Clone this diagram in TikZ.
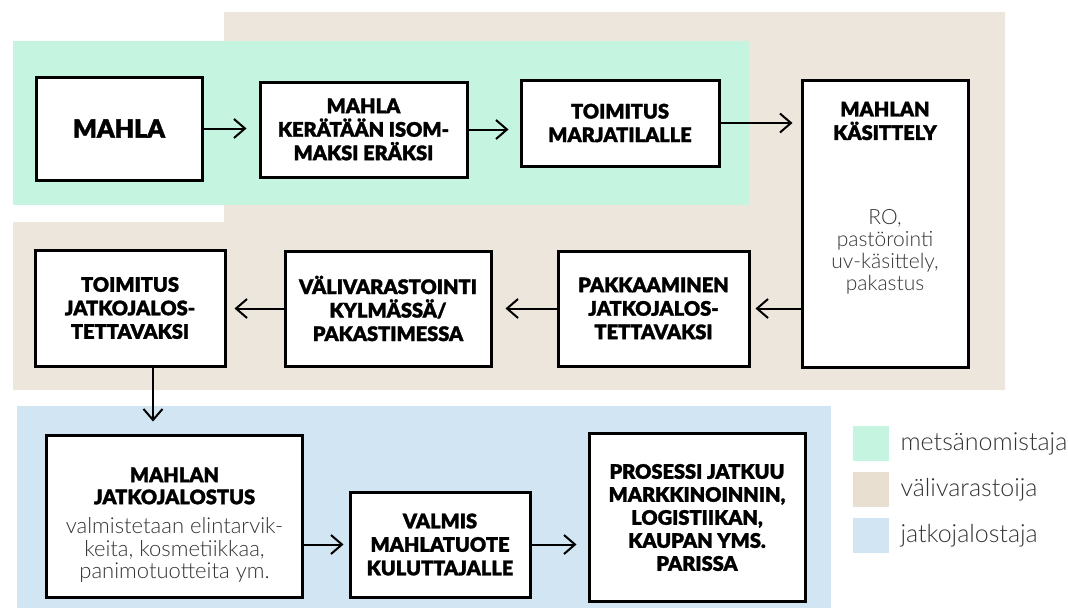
\documentclass[tikz,border=0pt]{standalone}
\usepackage{fontspec}
\setmainfont{Lato}[UprightFont=* Light, BoldFont=* Black, BoldFeatures={FakeBold=1.5}]
\usetikzlibrary{arrows.meta}
\definecolor{metsacol}{HTML}{C5F4E0}
\definecolor{valicol}{HTML}{EDE6DC}
\definecolor{valiselite}{HTML}{E8DFD0}
\definecolor{jatkocol}{HTML}{D2E5F3}

\begin{document}
\begin{tikzpicture}[x=1pt, y=-1pt, >={Straight Barb[length=11pt,width=19pt]},
  head/.style={align=center, font=\fontsize{20}{23.5}\selectfont\bfseries},
  box/.style={head, draw, line width=3pt, fill=white, inner sep=0pt},
  body/.style={align=center, text=black!80, font=\fontsize{21}{22}\selectfont},
  arr/.style={->, line width=2pt}]
\useasboundingbox (0,0) rectangle (1068,608);
% taustat
\fill[valicol] (224,12) -- (1005,12) -- (1005,390) -- (13,390) -- (13,222) -- (224,222) -- cycle;
\fill[metsacol] (13,41) rectangle (749,205);
\fill[jatkocol] (17,406) rectangle (831,608);

\node[box, minimum width=166pt, minimum height=103pt, font=\fontsize{25}{30}\selectfont\bfseries] (mahla) at (119,128.5) {MAHLA};
\node[box, minimum width=207pt, minimum height=95pt] (keraa) at (363.5,129.5) {MAHLA\\KERÄTÄÄN ISOM-\\MAKSI ERÄKSI};
\node[box, minimum width=198pt, minimum height=86pt] (toim1) at (620,123) {TOIMITUS\\MARJATILALLE};
\node[box, minimum width=166pt, minimum height=287pt] (kasit) at (885,223.5) {};
\node[head] (kasitotsikko) at (885,121) {MAHLAN\\KÄSITTELY};
\node[body] (kasitteksti) at (885,252) {RO,\\pastörointi\\uv-käsittely,\\pakastus};
\node[box, minimum width=191pt, minimum height=115pt] (pakk) at (653.5,308.5) {PAKKAAMINEN\\JATKOJALOS-\\TETTAVAKSI};
\node[box, minimum width=206pt, minimum height=115pt] (vali) at (388,308.5) {VÄLIVARASTOINTI\\KYLMÄSSÄ/\\PAKASTIMESSA};
\node[box, minimum width=190pt, minimum height=116pt] (toim2) at (130,308) {TOIMITUS\\JATKOJALOS-\\TETTAVAKSI};
\node[box, minimum width=256pt, minimum height=162pt] (jatko) at (174.5,516) {};
\node[head, font=\fontsize{20}{22}\selectfont\bfseries] (jatkootsikko) at (174.5,486) {MAHLAN\\JATKOJALOSTUS};
\node[body, font=\fontsize{22}{22.5}\selectfont] (jatkoteksti) at (174.5,550) {valmistetaan elintarvik-\\keita, kosmetiikkaa,\\panimotuotteita ym.};
\node[box, minimum width=180pt, minimum height=105pt] (valmis) at (440,544.5) {VALMIS\\MAHLATUOTE\\KULUTTAJALLE};
\node[box, minimum width=216pt, minimum height=168pt, font=\fontsize{20}{23}\selectfont\bfseries] (pros) at (697,517.5) {PROSESSI JATKUU\\MARKKINOINNIN,\\LOGISTIIKAN,\\KAUPAN YMS.\\PARISSA};

\draw[arr, shorten >=12pt] (mahla.east) -- (mahla.east -| keraa.west);
\draw[arr, shorten >=11pt] (keraa.east) -- (keraa.east -| toim1.west);
\draw[arr, shorten >=8pt] (toim1.east) -- (toim1.east -| kasit.west);
\draw[arr, shorten >=5pt] (pakk.east -| kasit.west) -- (pakk.east);
\draw[arr, shorten >=13pt] (pakk.west) -- (pakk.west -| vali.east);
\draw[arr, shorten >=8pt] (vali.west) -- (vali.west -| toim2.east);
\draw[arr, shorten >=12pt] ([xshift=23pt]toim2.south) -- ([xshift=23pt]toim2.south |- jatko.north);
\draw[arr, shorten >=5pt] (valmis.west -| jatko.east) -- (valmis.west);
\draw[arr, shorten >=11pt] (valmis.east) -- (valmis.east -| pros.west);

% selite
\foreach \c/\t [count=\i] in {metsacol/metsänomistaja, valiselite/välivarastoija, jatkocol/jatkojalostaja} {
  \fill[\c] (853,380+46*\i) rectangle ++(36,35);
  \node[anchor=west, text=black!80, font=\fontsize{25}{25}\selectfont] (selite\i) at (897,397.5+46*\i) {\t};
}
\end{tikzpicture}
\end{document}
